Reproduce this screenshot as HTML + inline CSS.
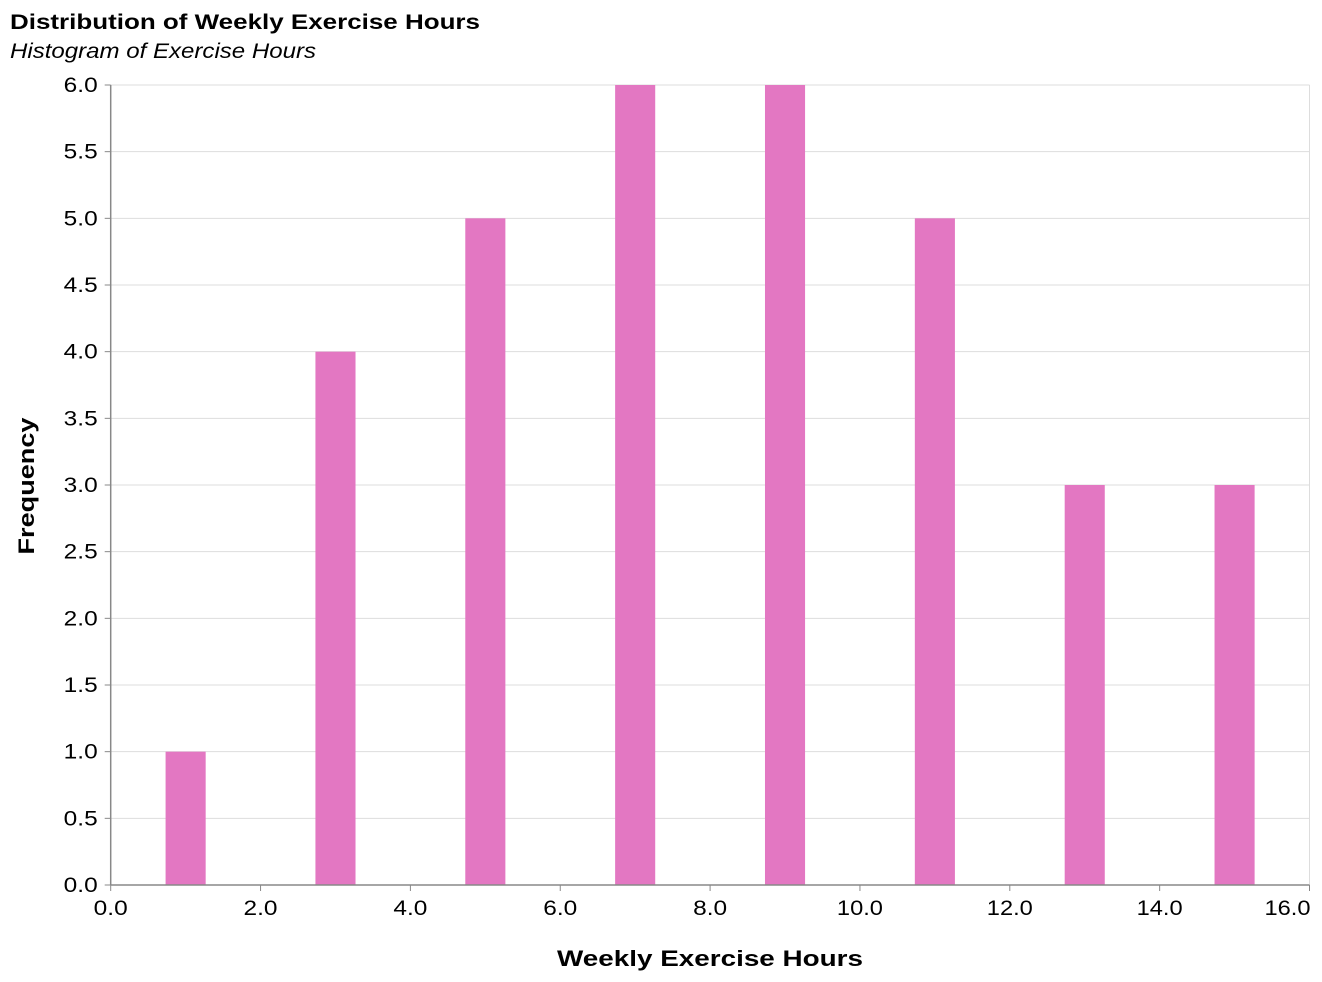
<!DOCTYPE html>
<html><head><meta charset="utf-8"><style>
body{margin:0;background:#fff;}
svg{display:block;font-family:"Liberation Sans",Arial,sans-serif;}
</style></head><body>
<svg id="chart" width="1322" height="982">
<text x="10" y="29" font-size="21" font-weight="bold" fill="#000" textLength="470" lengthAdjust="spacingAndGlyphs">Distribution of Weekly Exercise Hours</text>
<text x="10" y="58" font-size="21" font-style="italic" fill="#000" textLength="306" lengthAdjust="spacingAndGlyphs">Histogram of Exercise Hours</text>
<g id="grid"></g><g id="bars"></g><g id="axes"></g>
<text x="710" y="966" font-size="22" font-weight="bold" text-anchor="middle" textLength="306" lengthAdjust="spacingAndGlyphs">Weekly Exercise Hours</text>
<text transform="translate(34,486) rotate(-90)" font-size="22" font-weight="bold" text-anchor="middle" textLength="137" lengthAdjust="spacingAndGlyphs">Frequency</text>
</svg>
<script>
const binCenters=[1,3,5,7,9,11,13,15];
const counts=[1,4,5,6,6,5,3,3];
const xTicks=[0,2,4,6,8,10,12,14,16];
const yTicks=[0,0.5,1,1.5,2,2.5,3,3.5,4,4.5,5,5.5,6];
const NS="http://www.w3.org/2000/svg";
const X0=110.7,X1=1309.5,Y0=885,Y1=85;
const xs=v=>X0+(v-0)/(16-0)*(X1-X0);
const ys=v=>Y0-(v/6)*(Y0-Y1);
function mk(t,a,p){const e=document.createElementNS(NS,t);for(const k in a)e.setAttribute(k,a[k]);p.appendChild(e);return e;}
const grid=document.getElementById('grid'),bars=document.getElementById('bars'),axes=document.getElementById('axes');
yTicks.forEach(v=>{
const l=mk('line',{x1:X0,x2:X1,y1:ys(v),y2:ys(v),stroke:'#ddd','stroke-width':1},grid);


const t=mk('line',{x1:X0-6,x2:X0,y1:ys(v),y2:ys(v),stroke:'#888','stroke-width':1},axes);


const tx=mk('text',{x:X0-13,y:ys(v)+7,'font-size':21,'text-anchor':'end',fill:'#000',textLength:34,lengthAdjust:'spacingAndGlyphs'},axes);
tx.textContent=v.toFixed(1);


});
mk('line',{x1:X1,x2:X1,y1:Y1,y2:Y0,stroke:'#ddd'},grid);
binCenters.forEach((c,i)=>{
const w=0.535*(X1-X0)/16;
const r=mk('rect',{x:xs(c)-w/2,y:ys(counts[i]),width:w,height:Y0-ys(counts[i]),fill:'#e377c2'},bars);


});
mk('line',{x1:X0,x2:X0,y1:Y1,y2:Y0,stroke:'#888','stroke-width':1.5},axes);
mk('line',{x1:X0,x2:X1,y1:Y0,y2:Y0,stroke:'#888','stroke-width':1.5},axes);
xTicks.forEach((v,i)=>{
const t=mk('line',{x1:xs(v),x2:xs(v),y1:Y0,y2:Y0+6,stroke:'#888'},axes);


const s=v.toFixed(1);
const last=i===xTicks.length-1;
const tx=mk('text',{x:last?xs(v)+1:xs(v),y:Y0+30,'font-size':21,'text-anchor':last?'end':'middle',fill:'#000',textLength:s.length===3?34:46,lengthAdjust:'spacingAndGlyphs'},axes);
tx.textContent=s;


});
</script>
</body></html>
